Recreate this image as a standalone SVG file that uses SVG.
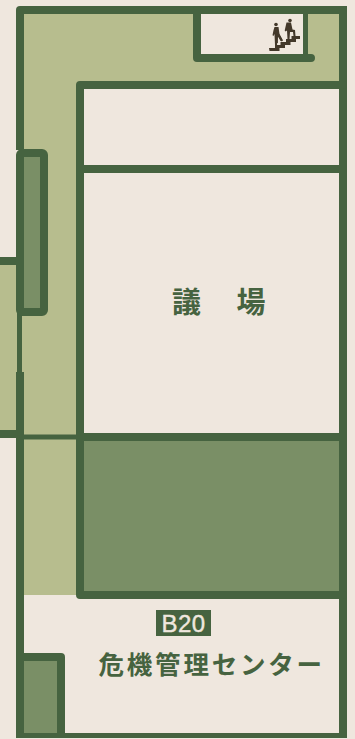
<svg xmlns="http://www.w3.org/2000/svg" width="355" height="739" viewBox="0 0 355 739">
<style>
.w{fill:none;stroke:#466340;stroke-width:8;stroke-linecap:round;stroke-linejoin:round}
.wb{fill:none;stroke:#466340;stroke-width:8}
.g{fill:#b7bd8e}
.d{fill:#7a8f66}
.t{fill:#466340;font-family:"Noto Sans CJK JP",sans-serif;font-weight:700}
.i{fill:#43382a}
.p{fill:none;stroke:#43382a;stroke-width:2.200;stroke-linejoin:round}
</style>
<rect width="355" height="739" fill="#efe7de"/>
<g id="floor">
<rect class="g" x="20" y="10" width="60" height="585"/>
<rect class="g" x="80" y="10" width="263" height="75"/>
<rect class="g" x="0" y="261" width="20" height="173"/>
<rect x="197" y="14" width="109" height="44" rx="2" fill="#efe7de"/>
</g>
<g id="connectors">
<path class="wb" d="M20 10H343V738M20 10V150"/>
<path class="w" d="M20 10H343"/>
<path fill="none" stroke="#466340" stroke-width="5" d="M19.500 310V375"/>
<path class="wb" d="M20 372V738"/>
<path fill="none" stroke="#466340" stroke-width="5" d="M16 735.500H347"/>
<path class="wb" d="M0 261H18M0 434H18"/>
<path fill="none" stroke="#466340" stroke-width="5" d="M20 437H80"/>
<path class="w" d="M197 10V58H311"/>
<path fill="none" stroke="#466340" stroke-width="5" d="M305.500 10V58"/>
<path class="w" d="M343 85H80V595H343"/>
<path class="wb" d="M80 169H343M80 437H343"/>
</g>
<g id="room-dark">
<rect class="d" x="84" y="441" width="255" height="150"/>
</g>
<g id="box-left">
<rect class="d" x="20" y="153" width="24" height="159" rx="2" stroke="#466340" stroke-width="8" stroke-linejoin="round"/>
</g>
<g id="box-bottom">
<rect class="d" x="24" y="661" width="33" height="72"/>
<path class="wb" stroke-linejoin="round" d="M20 657H61V734"/>
</g>
<g id="stairs">
<path class="i" d="M269 48h6v-3h5.500v-3h5.500v-3h5.500v-3h8.500v3h-4v3h-5.500v3h-5.500v3h-5.500v3h-10z"/>
<circle class="i" cx="276" cy="24.500" r="1.800"/>
<circle class="i" cx="290" cy="20.500" r="1.800"/>
<path class="i" d="M274.500 27h4l1 7 3.500 6.500-1.500 1-3.500-5-1 8.500h-2l-.5-11-1 2-1-.8 1-5z"/>
<path class="p" d="M276.500 33l.3 10M278 34l3.500 6.500"/>
<path class="i" d="M286.500 22.500h4.500l1.500 7 2.500.5.500 6h-2l-.5-4h-3l-.5 7.500h-2l-.5-9-1.500 1-.8-1z"/>
</g>
<g id="label-main">
<text class="t" x="172" y="313" font-size="29">議</text>
<text class="t" x="236.500" y="313" font-size="29">場</text>
</g>
<g id="label-center">
<rect x="156" y="610" width="55" height="26" fill="#466340"/>
<text x="183.500" y="632" font-size="24" text-anchor="middle" letter-spacing="0.500" fill="#efe7de" stroke="#efe7de" stroke-width="0.400" font-family="'Liberation Sans',sans-serif">B20</text>
<text class="t" x="98.500" y="674" font-size="25.500" letter-spacing="2.800">危機管理センター</text>
</g>
</svg>
